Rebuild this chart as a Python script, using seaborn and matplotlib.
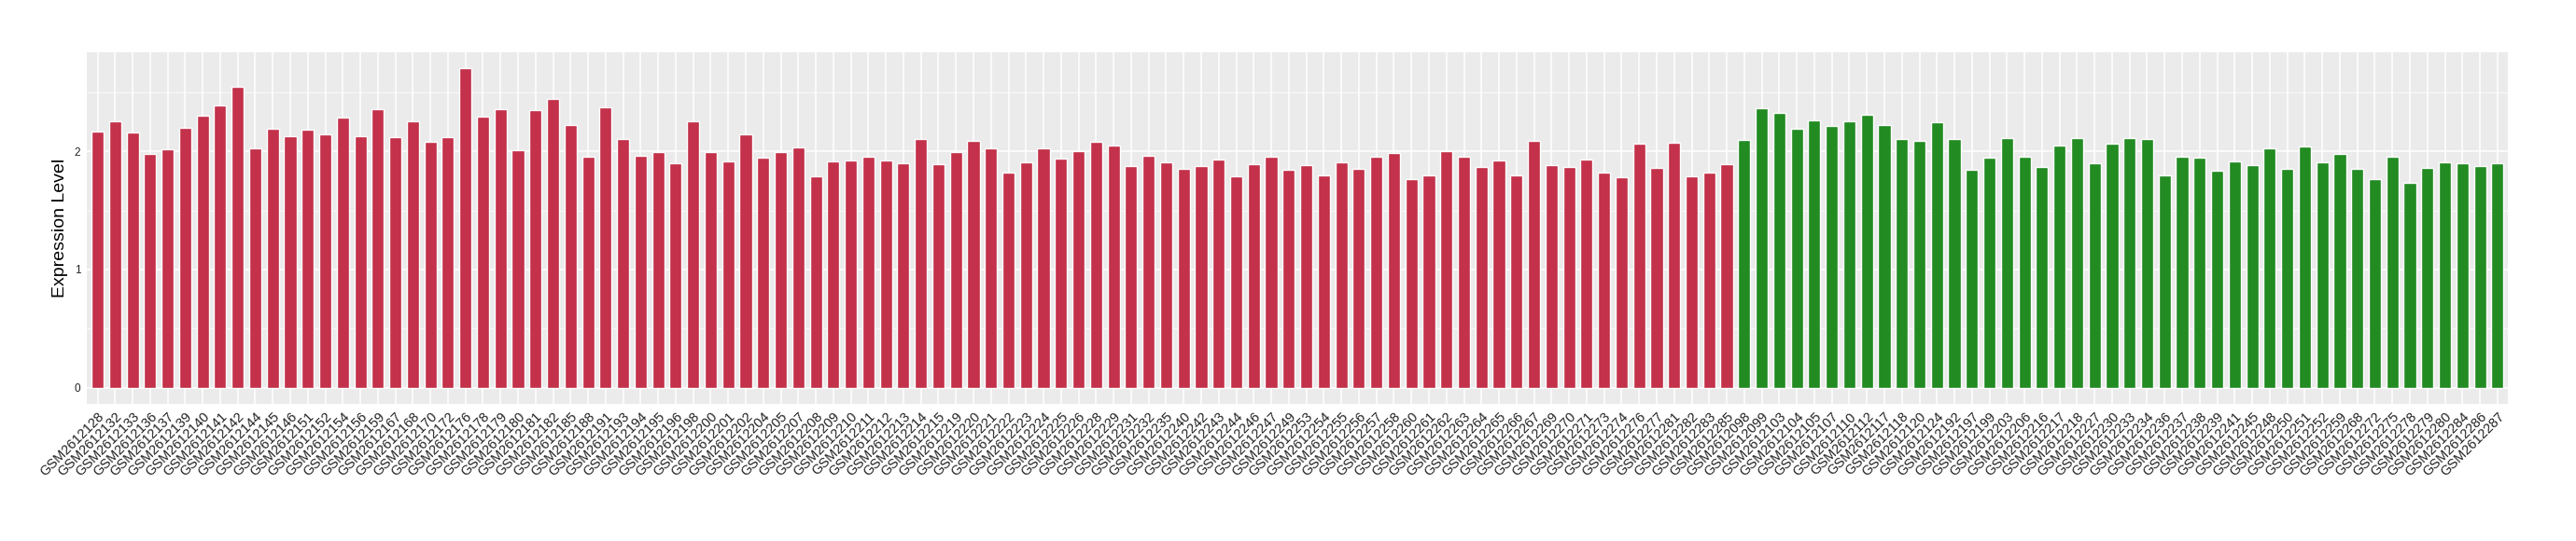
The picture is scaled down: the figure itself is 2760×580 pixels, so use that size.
import numpy as np
import pandas as pd
import matplotlib
matplotlib.use('Agg')
import matplotlib.pyplot as plt
import seaborn as sns
from matplotlib.ticker import FixedLocator

# Data

red_samples = ['GSM2612128', 'GSM2612132', 'GSM2612133', 'GSM2612136', 'GSM2612137', 'GSM2612139',
               'GSM2612140', 'GSM2612141', 'GSM2612142', 'GSM2612144', 'GSM2612145', 'GSM2612146',
               'GSM2612151', 'GSM2612152', 'GSM2612154', 'GSM2612156', 'GSM2612159', 'GSM2612167',
               'GSM2612168', 'GSM2612170', 'GSM2612172', 'GSM2612176', 'GSM2612178', 'GSM2612179',
               'GSM2612180', 'GSM2612181', 'GSM2612182', 'GSM2612185', 'GSM2612188', 'GSM2612191',
               'GSM2612193', 'GSM2612194', 'GSM2612195', 'GSM2612196', 'GSM2612198', 'GSM2612200',
               'GSM2612201', 'GSM2612202', 'GSM2612204', 'GSM2612205', 'GSM2612207', 'GSM2612208',
               'GSM2612209', 'GSM2612210', 'GSM2612211', 'GSM2612212', 'GSM2612213', 'GSM2612214',
               'GSM2612215', 'GSM2612219', 'GSM2612220', 'GSM2612221', 'GSM2612222', 'GSM2612223',
               'GSM2612224', 'GSM2612225', 'GSM2612226', 'GSM2612228', 'GSM2612229', 'GSM2612231',
               'GSM2612232', 'GSM2612235', 'GSM2612240', 'GSM2612242', 'GSM2612243', 'GSM2612244',
               'GSM2612246', 'GSM2612247', 'GSM2612249', 'GSM2612253', 'GSM2612254', 'GSM2612255',
               'GSM2612256', 'GSM2612257', 'GSM2612258', 'GSM2612260', 'GSM2612261', 'GSM2612262',
               'GSM2612263', 'GSM2612264', 'GSM2612265', 'GSM2612266', 'GSM2612267', 'GSM2612269',
               'GSM2612270', 'GSM2612271', 'GSM2612273', 'GSM2612274', 'GSM2612276', 'GSM2612277',
               'GSM2612281', 'GSM2612282', 'GSM2612283', 'GSM2612285']
red_values = [2.170, 2.254, 2.162, 1.979, 2.018, 2.202,
              2.299, 2.391, 2.543, 2.026, 2.194, 2.126,
              2.186, 2.147, 2.286, 2.131, 2.354, 2.118,
              2.254, 2.079, 2.118, 2.703, 2.291, 2.354,
              2.010, 2.346, 2.446, 2.223, 1.958, 2.370,
              2.102, 1.966, 1.995, 1.895, 2.254, 1.995,
              1.911, 2.147, 1.950, 1.995, 2.034, 1.790,
              1.911, 1.919, 1.958, 1.919, 1.895, 2.102,
              1.890, 1.995, 2.086, 2.026, 1.819, 1.903,
              2.026, 1.942, 2.003, 2.079, 2.050, 1.874,
              1.966, 1.903, 1.851, 1.874, 1.927, 1.790,
              1.890, 1.958, 1.843, 1.882, 1.798, 1.903,
              1.851, 1.958, 1.987, 1.767, 1.798, 2.003,
              1.958, 1.866, 1.919, 1.798, 2.086, 1.882,
              1.866, 1.927, 1.819, 1.782, 2.063, 1.858,
              2.071, 1.790, 1.819, 1.890]

green_samples = ['GSM2612098', 'GSM2612099', 'GSM2612103', 'GSM2612104', 'GSM2612105', 'GSM2612107',
                 'GSM2612110', 'GSM2612112', 'GSM2612117', 'GSM2612118', 'GSM2612120', 'GSM2612124',
                 'GSM2612192', 'GSM2612197', 'GSM2612199', 'GSM2612203', 'GSM2612206', 'GSM2612216',
                 'GSM2612217', 'GSM2612218', 'GSM2612227', 'GSM2612230', 'GSM2612233', 'GSM2612234',
                 'GSM2612236', 'GSM2612237', 'GSM2612238', 'GSM2612239', 'GSM2612241', 'GSM2612245',
                 'GSM2612248', 'GSM2612250', 'GSM2612251', 'GSM2612252', 'GSM2612259', 'GSM2612268',
                 'GSM2612272', 'GSM2612275', 'GSM2612278', 'GSM2612279', 'GSM2612280', 'GSM2612284',
                 'GSM2612286', 'GSM2612287']
green_values = [2.094, 2.362, 2.322, 2.194, 2.262, 2.215,
                2.254, 2.307, 2.223, 2.102, 2.086, 2.246,
                2.102, 1.843, 1.950, 2.110, 1.958, 1.866,
                2.050, 2.110, 1.895, 2.063, 2.110, 2.102,
                1.798, 1.958, 1.950, 1.835, 1.911, 1.882,
                2.026, 1.851, 2.042, 1.903, 1.979, 1.851,
                1.767, 1.958, 1.730, 1.858, 1.903, 1.895,
                1.874, 1.895]

df = pd.DataFrame({
    'sample': red_samples + green_samples,
    'value': red_values + green_values,
    'group': ['red'] * len(red_samples) + ['green'] * len(green_samples),
})

# Make plot

sns.set_theme(style='darkgrid', rc={'axes.facecolor': '#EBEBEB', 'grid.color': 'white'})
plt.rcParams['font.family'] = ['Liberation Sans', 'DejaVu Sans']

fig = plt.figure(figsize=(27.6, 5.8), dpi=100)
ax = fig.add_axes([0.0338, 0.254, 0.9398, 0.6494])

sns.barplot(data=df, x='sample', y='value', hue='group',
            palette={'red': '#C3314A', 'green': '#228B22'},
            dodge=False, width=0.7, saturation=1, legend=False, ax=ax)

n = len(df)
ax.set_xlim(-0.6, n - 0.4)
ax.set_ylim(-0.135, 2.838)
ax.set_yticks([0, 1, 2])
ax.yaxis.set_minor_locator(FixedLocator([0.5, 1.5, 2.5]))
ax.grid(which='major', color='white', linewidth=1.1)
ax.grid(which='minor', axis='y', color='white', linewidth=0.55)
ax.set_axisbelow(True)
for s in ax.spines.values():
    s.set_visible(False)

ax.tick_params(axis='both', which='major', length=3, width=0.8, color='#333333',
               labelcolor='#222222', pad=2)
ax.tick_params(axis='y', labelsize=8.5)
ax.tick_params(axis='x', labelsize=10.5)
ax.tick_params(which='minor', length=0)
for lab in ax.get_xticklabels():
    lab.set_rotation(45)
    lab.set_ha('right')
    lab.set_va('top')
    lab.set_rotation_mode('anchor')

ax.set_xlabel('')
ax.set_ylabel('Expression Level', fontsize=14, color='black', labelpad=5)

fig.savefig('out.png', dpi=100)
